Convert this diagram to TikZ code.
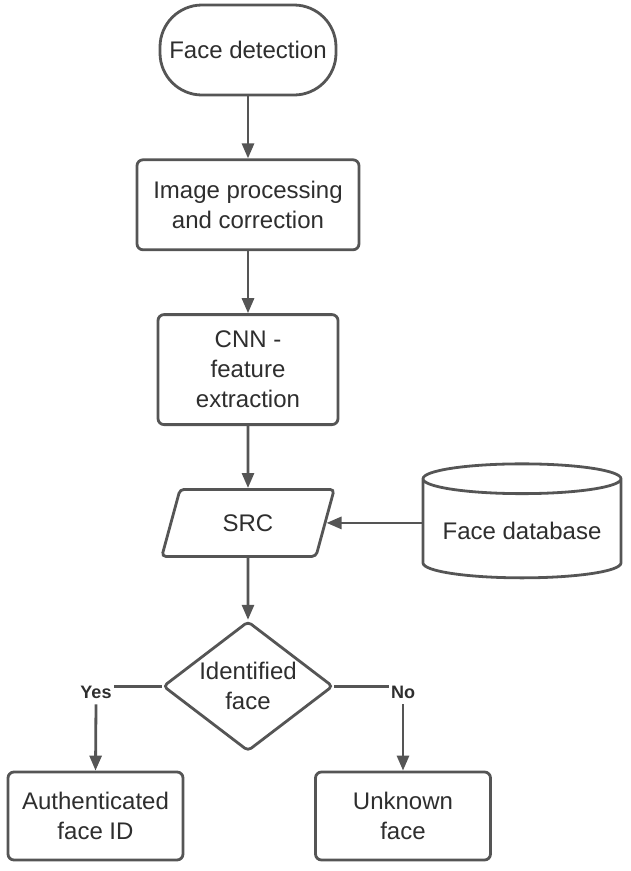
\documentclass[tikz,border=0pt]{standalone}
\usepackage{fontspec}
\setmainfont{Liberation Sans}
\usetikzlibrary{arrows.meta,positioning,shapes.geometric}
\definecolor{Line}{HTML}{555555}
\definecolor{Ink}{HTML}{2E2E2E}

\begin{document}
\begin{tikzpicture}[node distance=62pt,>={Triangle[length=15pt,width=12pt]},
    every node/.style={text=Ink,font=\fontsize{24}{30}\selectfont,align=center},
    box/.style={draw=Line,line width=2.8pt,rounded corners=6pt,fill=white},
    term/.style={box,rounded corners=42pt,minimum width=176pt,minimum height=90pt},
    arr/.style={->,draw=Line,fill=Line,line width=2.8pt},
    lbl/.style={font=\bfseries\fontsize{18}{22}\selectfont,inner xsep=2pt,inner ysep=6pt}]
    \useasboundingbox (0pt,0pt) rectangle (630pt,-871pt);
    \node[term] (detect) at (248pt,-50pt) {Face detection};
    \node[box,below=of detect,minimum width=222pt,minimum height=90pt] (proc) {Image processing\\and correction};
    \node[box,below=of proc,minimum width=180pt,minimum height=110pt] (cnn) {CNN -\\feature\\extraction};
    \node[box,below=of cnn,trapezium,trapezium left angle=72,trapezium right angle=108,
          trapezium stretches=true,minimum width=173pt,minimum height=67pt,rounded corners=4pt] (src) {SRC};
    \node[box,cylinder,shape border rotate=90,aspect=0.18,minimum width=198pt,minimum height=114pt,
          rounded corners=0pt] (db) at ([xshift=274pt,yshift=-8pt]src.center) {\raisebox{-5pt}{Face database}};
    \node[box,below=of src,diamond,aspect=1.3,minimum width=170pt,minimum height=130pt,inner sep=0pt,
          rounded corners=4pt] (dec) {Identified\\face};
    \node[lbl] (yes) at (96pt,-692pt) {Yes};
    \node[lbl] (no) at (403pt,-692pt) {No};
    \node[box,minimum width=175pt,minimum height=88pt] (auth) at (95.5pt,-816pt) {Authenticated\\face ID};
    \node[box,minimum width=175pt,minimum height=88pt] (unk) at (403pt,-816pt) {Unknown\\face};
    % main chain
    \draw[arr] (detect) -- (proc);
    \draw[arr] (proc) -- (cnn);
    \draw[arr] (cnn) -- (src);
    \draw[arr] (db.west |- src.east) -- (src.east);
    \draw[arr] (src) -- (dec);
    % decision branches
    \draw[draw=Line,line width=2.8pt] (dec.west) -- (dec.west -| yes.east);
    \draw[draw=Line,line width=2.8pt] (dec.east) -- (dec.east -| no.west);
    \draw[arr] (yes.south) -- (auth.north);
    \draw[arr] (no.south) -- (unk.north);
\end{tikzpicture}
\end{document}
